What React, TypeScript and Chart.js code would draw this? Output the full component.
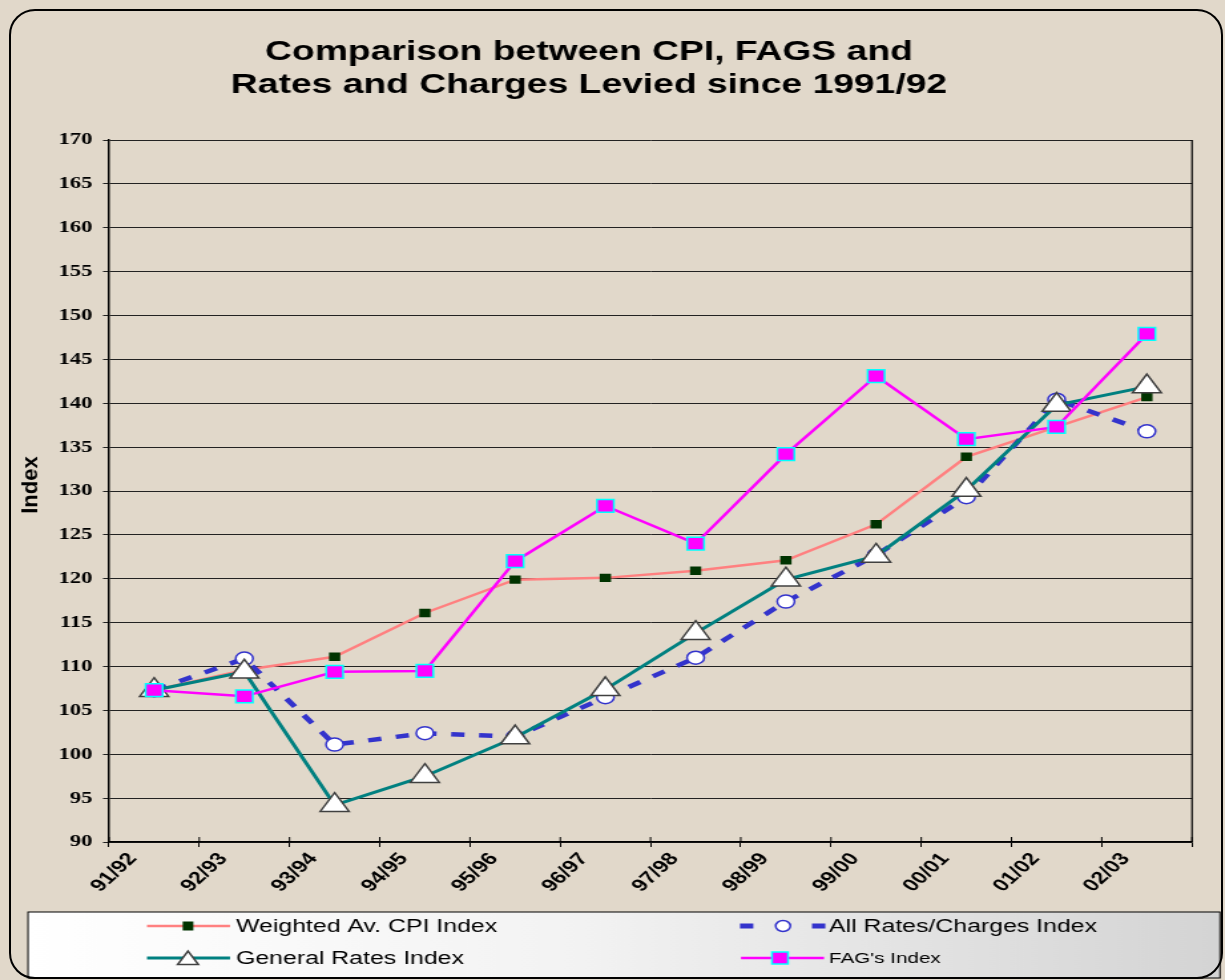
import React, { useEffect, useRef } from "react";
import { Chart, registerables } from "chart.js";

Chart.register(...registerables);

// ---------- data ----------
const categories = ["91/92", "92/93", "93/94", "94/95", "95/96", "96/97", "97/98", "98/99", "99/00", "00/01", "01/02", "02/03"];
const cpiIndex = [107.3, 109.6, 111.1, 116.1, 119.9, 120.1, 120.9, 122.1, 126.2, 133.9, 137.3, 140.7];
const allRatesIndex = [107.3, 110.9, 101.1, 102.4, 102.0, 106.5, 111.0, 117.4, 122.7, 129.3, 140.4, 136.8];
const generalRatesIndex = [107.3, 109.4, 94.2, 97.5, 101.9, 107.4, 113.8, 119.9, 122.6, 130.1, 139.8, 141.9];
const fagIndex = [107.3, 106.6, 109.4, 109.5, 122.0, 128.3, 124.0, 134.2, 143.1, 135.9, 137.3, 147.9];
const yMin = 90;
const yMax = 170;
const yStep = 5;
const titleLines = ["Comparison between CPI, FAGS and", "Rates and Charges Levied since 1991/92"];
const yTitle = "Index";
const seriesLabels = ["Weighted Av. CPI Index", "All Rates/Charges Index", "General Rates Index", "FAG's Index"];

// ---------- layout (horizontal stretch like the reference) ----------
const S = 1.33;
const W = 1225;
const H = 980;
const CW = Math.round(W / S);
const PLOT_LEFT = 109 / S;
const PLOT_RIGHT = 1192 / S;
const PLOT_TOP = 140;
const PLOT_BOTTOM = 842;
const XAXIS_H = 60;
const BG = "#e1d8ca";

const C_CPI = "#ff8080";
const C_CPI_PT = "#003300";
const C_ALL = "#3333cc";
const C_GEN = "#008080";
const C_FAG = "#ff00ff";
const C_FAG_BORDER = "#00ffff";

function drawTriangle(ctx: CanvasRenderingContext2D, x: number, y: number, r: number) {
  ctx.beginPath();
  ctx.moveTo(x, y - r);
  ctx.lineTo(x + r * Math.sin((2 * Math.PI) / 3), y - r * Math.cos((2 * Math.PI) / 3));
  ctx.lineTo(x + r * Math.sin((4 * Math.PI) / 3), y - r * Math.cos((4 * Math.PI) / 3));
  ctx.closePath();
  ctx.fillStyle = "#fff";
  ctx.fill();
  ctx.strokeStyle = "#404040";
  ctx.lineWidth = 1.5;
  ctx.stroke();
}

const decorPlugin = {
  id: "decor",
  afterDraw(chart: any) {
    const { ctx, chartArea } = chart;
    ctx.save();

    // plot right border
    ctx.strokeStyle = "#000";
    ctx.lineWidth = 1.2;
    ctx.beginPath();
    ctx.moveTo(chartArea.right, chartArea.top);
    ctx.lineTo(chartArea.right, chartArea.bottom);
    ctx.stroke();

    // small x tick marks above axis
    const n = categories.length;
    const cw = (chartArea.right - chartArea.left) / n;
    ctx.lineWidth = 1;
    for (let i = 0; i <= n; i++) {
      const x = chartArea.left + i * cw;
      ctx.beginPath();
      ctx.moveTo(x, chartArea.bottom - 5);
      ctx.lineTo(x, chartArea.bottom);
      ctx.stroke();
    }

    // title
    ctx.fillStyle = "#000";
    ctx.font = 'bold 28px "Liberation Sans", Arial, sans-serif';
    ctx.textAlign = "center";
    ctx.textBaseline = "alphabetic";
    ctx.fillText(titleLines[0], 589 / S, 60);
    ctx.fillText(titleLines[1], 589 / S, 93);

    // y title
    ctx.save();
    ctx.translate(30 / S, 485);
    ctx.rotate(-Math.PI / 2);
    ctx.scale(1.3, 1);
    ctx.font = 'bold 17px "Liberation Sans", Arial, sans-serif';
    ctx.textAlign = "center";
    ctx.textBaseline = "middle";
    ctx.fillText(yTitle, 0, 1);
    ctx.restore();

    // legend box
    const lx0 = 28 / S;
    const lx1 = 1220 / S;
    const ly0 = 912;
    const ly1 = 978;
    const g = ctx.createLinearGradient(lx0, 0, lx1, 0);
    g.addColorStop(0, "#ffffff");
    g.addColorStop(0.45, "#f3f3f3");
    g.addColorStop(1, "#d4d4d4");
    ctx.fillStyle = g;
    ctx.fillRect(lx0, ly0, lx1 - lx0, ly1 - ly0);
    ctx.strokeStyle = "#000";
    ctx.lineWidth = 1;
    ctx.strokeRect(lx0, ly0, lx1 - lx0, ly1 - ly0);

    const row1 = 926;
    const row2 = 958;
    ctx.textAlign = "left";
    ctx.textBaseline = "middle";

    // CPI entry
    ctx.strokeStyle = C_CPI;
    ctx.lineWidth = 2.5;
    ctx.beginPath();
    ctx.moveTo(147 / S, row1);
    ctx.lineTo(230 / S, row1);
    ctx.stroke();
    ctx.fillStyle = C_CPI_PT;
    ctx.fillRect(188 / S - 4, row1 - 4.5, 8, 9);
    ctx.fillStyle = "#000";
    ctx.font = '18.7px "Liberation Sans", Arial, sans-serif';
    ctx.fillText(seriesLabels[0], 236 / S, row1 + 1);

    // General rates entry
    ctx.strokeStyle = C_GEN;
    ctx.lineWidth = 3;
    ctx.beginPath();
    ctx.moveTo(147 / S, row2);
    ctx.lineTo(230 / S, row2);
    ctx.stroke();
    drawTriangle(ctx, 188 / S, row2 + 2, 9);
    ctx.fillStyle = "#000";
    ctx.font = '18.7px "Liberation Sans", Arial, sans-serif';
    ctx.fillText(seriesLabels[2], 236 / S, row2 + 1);

    // All rates entry
    ctx.fillStyle = C_ALL;
    ctx.fillRect(740 / S, row1 - 2.5, 10, 5);
    ctx.fillRect(812 / S, row1 - 2.5, 10, 5);
    ctx.beginPath();
    ctx.arc(783 / S, row1, 5.5, 0, Math.PI * 2);
    ctx.fillStyle = "#fff";
    ctx.fill();
    ctx.strokeStyle = C_ALL;
    ctx.lineWidth = 1.5;
    ctx.stroke();
    ctx.fillStyle = "#000";
    ctx.font = '18.7px "Liberation Sans", Arial, sans-serif';
    ctx.fillText(seriesLabels[1], 829 / S, row1 + 1);

    // FAG entry
    ctx.strokeStyle = C_FAG;
    ctx.lineWidth = 2.5;
    ctx.beginPath();
    ctx.moveTo(741 / S, row2);
    ctx.lineTo(824 / S, row2);
    ctx.stroke();
    ctx.fillStyle = C_FAG;
    ctx.fillRect(780 / S - 6, row2 - 6, 12, 12);
    ctx.strokeStyle = C_FAG_BORDER;
    ctx.lineWidth = 1.5;
    ctx.strokeRect(780 / S - 6, row2 - 6, 12, 12);
    ctx.fillStyle = "#000";
    ctx.font = '15.5px "Liberation Sans", Arial, sans-serif';
    ctx.fillText(seriesLabels[3], 829 / S, row2 + 1);

    ctx.restore();
  },
};

export default function App() {
  const ref = useRef<HTMLCanvasElement>(null);

  useEffect(() => {
    document.body.style.margin = "0";
    document.body.style.background = BG;
    const canvas = ref.current!;
    const chart = new Chart(canvas, {
      type: "line",
      data: {
        labels: categories,
        datasets: [
          {
            label: seriesLabels[0],
            data: cpiIndex,
            borderColor: C_CPI,
            borderWidth: 2.5,
            tension: 0,
            pointStyle: "rect",
            pointRadius: 6,
            pointBackgroundColor: C_CPI_PT,
            pointBorderColor: C_CPI_PT,
            pointBorderWidth: 0,
            order: 3,
          },
          {
            label: seriesLabels[1],
            data: allRatesIndex,
            borderColor: C_ALL,
            borderWidth: 4.5,
            borderDash: [10, 11],
            tension: 0,
            pointStyle: "circle",
            pointRadius: 6.5,
            pointBackgroundColor: "#fff",
            pointBorderColor: C_ALL,
            pointBorderWidth: 1.5,
            order: 2,
          },
          {
            label: seriesLabels[2],
            data: generalRatesIndex,
            borderColor: C_GEN,
            borderWidth: 3,
            tension: 0,
            pointStyle: "triangle",
            pointRadius: 12.5,
            pointBackgroundColor: "#fff",
            pointBorderColor: "#404040",
            pointBorderWidth: 1.5,
            order: 1,
          },
          {
            label: seriesLabels[3],
            data: fagIndex,
            borderColor: C_FAG,
            borderWidth: 2.5,
            tension: 0,
            pointStyle: "rect",
            pointRadius: 9,
            pointBackgroundColor: C_FAG,
            pointBorderColor: C_FAG_BORDER,
            pointBorderWidth: 1.5,
            order: 0,
          },
        ],
      },
      options: {
        responsive: false,
        animation: false,
        devicePixelRatio: 1,
        events: [],
        layout: {
          padding: {
            left: 0,
            right: CW - PLOT_RIGHT,
            top: PLOT_TOP,
            bottom: H - PLOT_BOTTOM - XAXIS_H,
          },
        },
        plugins: {
          legend: { display: false },
          title: { display: false },
          tooltip: { enabled: false },
        },
        scales: {
          x: {
            type: "category",
            offset: true,
            grid: {
              offset: true,
              drawOnChartArea: false,
              drawTicks: true,
              tickLength: 5,
              color: "#000",
              lineWidth: 1,
            },
            border: { color: "#000", width: 1.5 },
            ticks: {
              autoSkip: false,
              minRotation: 50,
              maxRotation: 50,
              labelOffset: -16,
              padding: 2,
              color: "#000",
              font: { family: '"Liberation Sans", Arial, sans-serif', size: 17.5, weight: "bold" },
            },
            afterFit: (s: any) => {
              s.height = XAXIS_H;
            },
          },
          y: {
            min: yMin,
            max: yMax,
            grid: {
              color: "#222",
              lineWidth: 1,
              drawTicks: true,
              tickLength: 4.5,
            },
            border: { color: "#000", width: 1.5 },
            ticks: {
              stepSize: yStep,
              padding: 8,
              color: "#000",
              font: { family: '"Liberation Serif", "Times New Roman", serif', size: 17, weight: "bold" },
            },
            afterFit: (s: any) => {
              s.width = PLOT_LEFT;
            },
          },
        },
      },
      plugins: [decorPlugin],
    } as any);
    return () => chart.destroy();
  }, []);

  return (
    <div style={{ position: "relative", width: W, height: H, overflow: "hidden", background: BG }}>
      <div
        style={{
          position: "absolute",
          left: 0,
          top: 0,
          width: CW,
          height: H,
          transform: `scaleX(${S})`,
          transformOrigin: "0 0",
        }}
      >
        <canvas ref={ref} width={CW} height={H} style={{ display: "block", width: CW, height: H }} />
      </div>
      <div
        style={{
          position: "absolute",
          left: 9,
          top: 9,
          width: 1214,
          height: 970,
          boxSizing: "border-box",
          border: "2px solid #000",
          borderRadius: 26,
          pointerEvents: "none",
        }}
      />
    </div>
  );
}
